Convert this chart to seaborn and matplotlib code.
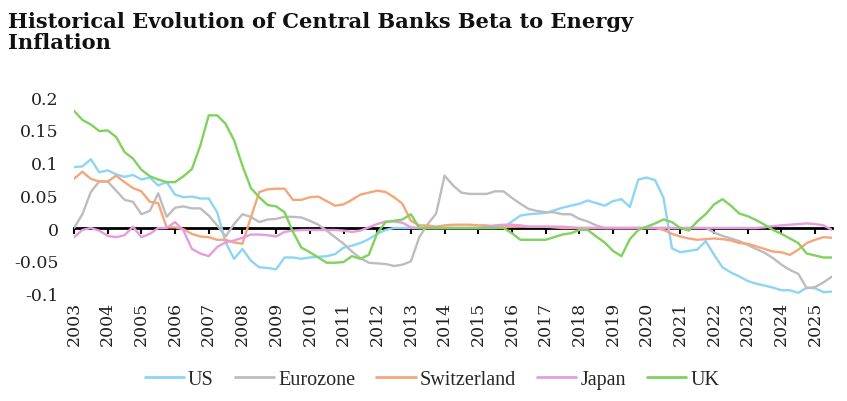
import numpy as np
import pandas as pd
import matplotlib
matplotlib.use("Agg")
import matplotlib.pyplot as plt
import seaborn as sns

# ---------------- data (quarterly, 2003Q1 .. 2025Q3) ----------------
start_year = 2003
n_quarters = 91
year_ticks = list(range(2003, 2026))
year_labels = [str(y) for y in year_ticks]
ytick_values = [-0.1, -0.05, 0, 0.05, 0.1, 0.15, 0.2]
ytick_labels = ["-0.1", "-0.05", "0", "0.05", "0.1", "0.15", "0.2"]

us = [0.093, 0.094, 0.105, 0.085, 0.088, 0.082, 0.078, 0.081, 0.074, 0.077,
      0.065, 0.070, 0.051, 0.047, 0.048, 0.045, 0.045, 0.024, -0.022, -0.047,
      -0.032, -0.050, -0.060, -0.061, -0.063, -0.045, -0.045, -0.047, -0.045, -0.044,
      -0.043, -0.040, -0.030, -0.027, -0.023, -0.017, -0.009, -0.003, 0.0,
      0.0, 0.0, 0.0, 0.0, 0.0, 0.0, 0.0, 0.0, 0.0, 0.0, 0.0, 0.0,
      0.001, 0.010, 0.019, 0.021, 0.022, 0.023, 0.027, 0.031, 0.034, 0.037,
      0.042, 0.038, 0.034, 0.041, 0.044, 0.032, 0.074, 0.077, 0.073, 0.046,
      -0.031, -0.037, -0.035, -0.033, -0.020, -0.041, -0.060, -0.068, -0.074, -0.081,
      -0.085, -0.088, -0.091, -0.095, -0.095, -0.099, -0.091, -0.092, -0.098, -0.097]

eurozone = [0.0, 0.021, 0.055, 0.071, 0.071, 0.057, 0.043, 0.040, 0.021, 0.026,
            0.053, 0.017, 0.031, 0.033, 0.030, 0.030, 0.019, 0.004, -0.013, 0.006,
            0.021, 0.017, 0.009, 0.013, 0.014, 0.017, 0.017, 0.016, 0.011, 0.005,
            -0.004, -0.014, -0.024, -0.036, -0.046, -0.053, -0.054, -0.055, -0.058, -0.056,
            -0.051, -0.014, 0.006, 0.022, 0.080, 0.065, 0.054, 0.052, 0.052, 0.052,
            0.056, 0.056, 0.046, 0.037, 0.029, 0.026, 0.024, 0.024, 0.021, 0.021,
            0.014, 0.010, 0.004, 0.0,
            0.0, 0.0, 0.0, 0.0, 0.0, 0.0, 0.0, 0.0, 0.0, 0.0, 0.0, 0.0,
            -0.007, -0.012, -0.016, -0.020, -0.026, -0.032, -0.038, -0.046, -0.056, -0.064,
            -0.070, -0.092, -0.090, -0.083, -0.074]

switzerland = [0.075, 0.086, 0.075, 0.071, 0.071, 0.080, 0.070, 0.061, 0.056, 0.040,
               0.038, 0.001, 0.001, -0.002, -0.009, -0.013, -0.014, -0.018, -0.018, -0.022,
               -0.024, 0.016, 0.055, 0.059, 0.060, 0.060, 0.043, 0.043, 0.047, 0.048,
               0.041, 0.034, 0.036, 0.043, 0.051, 0.054, 0.057, 0.055, 0.047, 0.037,
               0.011, 0.004, 0.004, 0.002, 0.004, 0.005, 0.005, 0.005, 0.004, 0.004,
               0.002, 0.001, 0.002, 0.002, 0.002, 0.002, 0.002, 0.001, 0.0,
               0.0, 0.0, 0.0, 0.0, 0.0, 0.0, 0.0, 0.0, 0.0, 0.0, 0.0,
               -0.003, -0.009, -0.013, -0.016, -0.018, -0.017, -0.016, -0.017, -0.019, -0.023,
               -0.024, -0.028, -0.032, -0.036, -0.037, -0.041, -0.033, -0.023, -0.018, -0.014,
               -0.015]

japan = [-0.014, -0.003, 0.0, -0.004, -0.012, -0.014, -0.011, 0.002, -0.014, -0.009,
         0.0, 0.0, 0.009, -0.004, -0.032, -0.039, -0.043, -0.029, -0.022, -0.019,
         -0.015, -0.010, -0.010, -0.011, -0.013, -0.006, -0.004, -0.003, -0.003, -0.003,
         -0.003, -0.003, -0.004, -0.006, -0.004, 0.001, 0.006, 0.010, 0.010, 0.008,
         0.001,
         0.0, 0.0, 0.0, 0.0, 0.0, 0.0, 0.0, 0.0,
         0.002, 0.004, 0.005, 0.005, 0.004, 0.002, 0.002, 0.002, 0.002, 0.002, 0.001,
         0.0, 0.0, 0.0, 0.0, 0.0, 0.0, 0.0, 0.0, 0.0, 0.0, 0.0,
         0.0, 0.0, 0.0, 0.0, 0.0, 0.0, 0.0, 0.0, 0.0, 0.0, 0.0,
         0.001, 0.003, 0.004, 0.005, 0.006, 0.007, 0.006, 0.004, -0.003]

uk = [0.179, 0.165, 0.158, 0.148, 0.149, 0.139, 0.116, 0.106, 0.089, 0.079,
      0.074, 0.070, 0.070, 0.079, 0.090, 0.126, 0.172, 0.172, 0.159, 0.134,
      0.095, 0.061, 0.047, 0.035, 0.033, 0.024, -0.006, -0.030, -0.037, -0.045,
      -0.053, -0.053, -0.052, -0.043, -0.047, -0.041, -0.008, 0.009, 0.011, 0.013,
      0.021,
      0.0, 0.0, 0.0, 0.0, 0.0, 0.0, 0.0, 0.0, 0.0, 0.0, 0.0,
      -0.008, -0.018, -0.018, -0.018, -0.018, -0.014, -0.010, -0.008, -0.003, -0.003,
      -0.013, -0.022, -0.035, -0.043, -0.017, -0.003, 0.002, 0.007, 0.013, 0.009,
      0.0, -0.004, 0.010, 0.021, 0.036, 0.044, 0.034, 0.022, 0.018, 0.012,
      0.005, -0.003, -0.009, -0.016, -0.023, -0.039, -0.042, -0.045, -0.045]

series_names = ["US", "Eurozone", "Switzerland", "Japan", "UK"]
series_values = [us, eurozone, switzerland, japan, uk]
colors = ["#8dd5f6", "#bdbdbd", "#f5a67c", "#e59de0", "#80d25e"]

t = start_year + np.arange(n_quarters) * 0.25
df = pd.concat(
    [pd.DataFrame({"t": t, "value": v, "series": name})
     for name, v in zip(series_names, series_values)],
    ignore_index=True,
)

# ---------------- plot ----------------
sns.set_style("white")
plt.rcParams["font.family"] = ["DejaVu Serif"]

fig = plt.figure(figsize=(8.47, 4.02), dpi=100)
ax = fig.add_axes([74 / 847, 1 - 294.5 / 402, (832 - 74) / 847, (294.5 - 98) / 402])

sns.lineplot(data=df, x="t", y="value", hue="series", hue_order=series_names,
             palette=colors, linewidth=1.7, ax=ax, legend=True)

ax.set_xlim(2003, 2025.5)
ax.set_ylim(-0.1, 0.2)
ax.set_xlabel("")
ax.set_ylabel("")

for s in ["left", "top", "right"]:
    ax.spines[s].set_visible(False)
ax.spines["bottom"].set_position(("data", 0))
ax.spines["bottom"].set_color("black")
ax.spines["bottom"].set_linewidth(2.0)
ax.spines["bottom"].set_zorder(1)

ax.set_xticks(year_ticks)
ax.tick_params(axis="x", bottom=True, direction="out", length=4, width=1.5,
               color="black", labelbottom=False)
ax.set_yticks(ytick_values)
ax.set_yticklabels(ytick_labels)
ax.tick_params(axis="y", left=False, length=0, pad=11, labelsize=12.5, labelcolor="#222222")

sec = ax.secondary_xaxis("bottom")
sec.set_xticks(year_ticks)
sec.set_xticklabels(year_labels, rotation=90)
sec.tick_params(length=0, pad=5, labelsize=12.5, labelcolor="#222222")
sec.spines["bottom"].set_visible(False)

handles, labels = ax.get_legend_handles_labels()
ax.get_legend().remove()
for h in handles:
    h.set_linewidth(2.0)
fig.legend(handles, labels, loc="center", bbox_to_anchor=(432 / 847, 1 - 380 / 402),
           ncol=5, frameon=False, handlelength=1.95, handletextpad=0.2,
           columnspacing=1.05, prop={"family": "Liberation Serif", "size": 14.5})

fig.text(8 / 847, 1 - 12 / 402,
         "Historical Evolution of Central Banks Beta to Energy\nInflation",
         ha="left", va="top", fontsize=15.1, fontweight="bold",
         family="DejaVu Serif", linespacing=1.08, color="#111111")

fig.savefig("out.png", dpi=100)
